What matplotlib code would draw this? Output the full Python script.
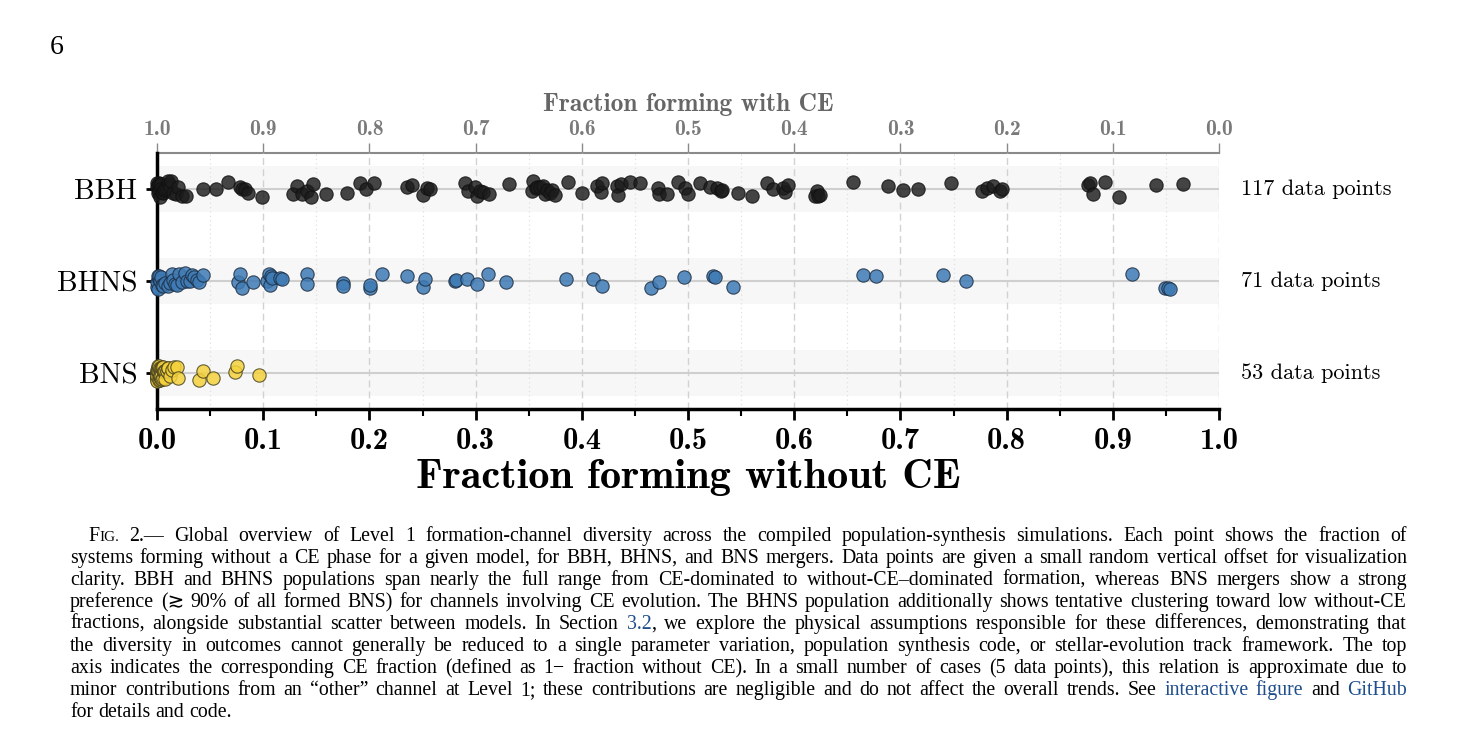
import numpy as np
import matplotlib
matplotlib.use("Agg")
import matplotlib.pyplot as plt

# ---------------- data ----------------
categories = ["BBH", "BHNS", "BNS"]
counts = [117, 71, 53]

bbh_frac = [
    0.000, 0.000, 0.001, 0.001, 0.002, 0.002, 0.003, 0.003, 0.004, 0.004,
    0.005, 0.006, 0.006, 0.007, 0.008, 0.009, 0.010, 0.011, 0.012, 0.013,
    0.015, 0.018, 0.020, 0.024, 0.027, 0.043, 0.056, 0.067, 0.078, 0.080,
    0.083, 0.086, 0.099, 0.128, 0.132, 0.137, 0.141, 0.145, 0.147, 0.159,
    0.179, 0.191, 0.197, 0.204, 0.235, 0.240, 0.250, 0.254, 0.257, 0.290,
    0.293, 0.299, 0.301, 0.304, 0.307, 0.313, 0.331, 0.353, 0.354, 0.357,
    0.358, 0.361, 0.363, 0.365, 0.367, 0.370, 0.372, 0.375, 0.387, 0.400,
    0.414, 0.418, 0.419, 0.433, 0.434, 0.437, 0.445, 0.455, 0.472, 0.473,
    0.480, 0.491, 0.497, 0.500, 0.511, 0.521, 0.527, 0.531, 0.532, 0.547,
    0.560, 0.574, 0.580, 0.589, 0.591, 0.594, 0.620, 0.621, 0.622, 0.624,
    0.655, 0.688, 0.702, 0.717, 0.748, 0.777, 0.782, 0.787, 0.794, 0.796,
    0.877, 0.879, 0.881, 0.893, 0.906, 0.941, 0.966,
]
bhns_frac = [
    0.000, 0.000, 0.001, 0.001, 0.002, 0.002, 0.003, 0.004, 0.005, 0.006,
    0.008, 0.010, 0.012, 0.014, 0.015, 0.017, 0.019, 0.021, 0.024, 0.026,
    0.028, 0.031, 0.033, 0.035, 0.038, 0.040, 0.043, 0.076, 0.078, 0.080,
    0.090, 0.104, 0.105, 0.106, 0.107, 0.108, 0.116, 0.118, 0.141, 0.141,
    0.175, 0.175, 0.201, 0.201, 0.212, 0.235, 0.250, 0.252, 0.281, 0.282,
    0.292, 0.301, 0.312, 0.329, 0.385, 0.411, 0.419, 0.465, 0.473, 0.496,
    0.524, 0.525, 0.542, 0.665, 0.677, 0.740, 0.762, 0.918, 0.949, 0.952,
    0.954,
]
bns_frac = [
    0.000, 0.000, 0.000, 0.000, 0.000, 0.000, 0.000, 0.000, 0.000, 0.000,
    0.001, 0.001, 0.001, 0.001, 0.001, 0.002, 0.002, 0.002, 0.002, 0.002,
    0.003, 0.003, 0.003, 0.003, 0.004, 0.004, 0.004, 0.004, 0.005, 0.005,
    0.005, 0.006, 0.006, 0.006, 0.007, 0.007, 0.008, 0.008, 0.009, 0.009,
    0.010, 0.010, 0.012, 0.014, 0.016, 0.019, 0.020, 0.040, 0.043, 0.053,
    0.073, 0.075, 0.096,
]
major_ticks = [0.0, 0.1, 0.2, 0.3, 0.4, 0.5, 0.6, 0.7, 0.8, 0.9, 1.0]
minor_ticks = [0.05, 0.15, 0.25, 0.35, 0.45, 0.55, 0.65, 0.75, 0.85, 0.95]

CS = 14.3   # caption font size
SC = 11.0   # small caps size
caption_lines = [
    [("F", "k", CS), ("IG.", "k", SC),
     (" 2.\u2014 Global overview of Level 1 formation-channel diversity across the compiled population-synthesis simulations. Each point shows the fraction of", "k", CS)],
    [("systems forming without a CE phase for a given model, for BBH, BHNS, and BNS mergers. Data points are given a small random vertical offset for visualization", "k", CS)],
    [("clarity. BBH and BHNS populations span nearly the full range from CE-dominated to without-CE\u2013dominated formation, whereas BNS mergers show a strong", "k", CS)],
    [("preference (\u2273 90% of all formed BNS) for channels involving CE evolution. The BHNS population additionally shows tentative clustering toward low without-CE", "k", CS)],
    [("fractions, alongside substantial scatter between models. In Section ", "k", CS), ("3.2", "L", CS),
     (", we explore the physical assumptions responsible for these differences, demonstrating that", "k", CS)],
    [("the diversity in outcomes cannot generally be reduced to a single parameter variation, population synthesis code, or stellar-evolution track framework. The top", "k", CS)],
    [("axis indicates the corresponding CE fraction (defined as 1\u2212 fraction without CE). In a small number of cases (5 data points), this relation is approximate due to", "k", CS)],
    [("minor contributions from an \u201cother\u201d channel at Level 1; these contributions are negligible and do not affect the overall trends. See ", "k", CS),
     ("interactive figure", "L", CS), (" and ", "k", CS), ("GitHub", "L", CS)],
    [("for details and code.", "k", CS)],
]

# ---------------- figure ----------------
W, H = 1472, 732
fig = plt.figure(figsize=(W / 100, H / 100), dpi=100)
fig.patch.set_facecolor("white")

ax = fig.add_axes([157 / W, 1 - 409 / H, (1219 - 157) / W, (409 - 153) / H])

rows = {"BBH": 2, "BHNS": 1, "BNS": 0}
styles = {
    "BBH": dict(fc="#1c1c1c", ec="#111111", alpha=0.82),
    "BHNS": dict(fc="#3f7bb5", ec="#1d2f44", alpha=0.85),
    "BNS": dict(fc="#f4d23c", ec="#4a4320", alpha=0.85),
}
datasets = {"BBH": bbh_frac, "BHNS": bhns_frac, "BNS": bns_frac}

rng = np.random.default_rng(7)
for name in categories:
    yc = rows[name]
    ax.axhspan(yc - 0.25, yc + 0.25, color="#f7f7f7", zorder=0, lw=0)
    ax.axhline(yc, color="#cfcfcf", lw=1.5, zorder=1)
    xs = np.array(datasets[name])
    jit = rng.uniform(-0.085, 0.085, size=len(xs))
    st = styles[name]
    ax.scatter(xs, yc + jit, s=92, facecolor=st["fc"], edgecolor=st["ec"],
               linewidth=0.8, alpha=st["alpha"], zorder=3, clip_on=False)

for xv in major_ticks:
    ax.axvline(xv, color="#d2d2d2", lw=1.0, ls=(0, (5, 3)), zorder=0.5)
for xv in minor_ticks:
    ax.axvline(xv, color="#e0e0e0", lw=0.9, ls=(0, (1, 2.5)), zorder=0.5)

ax.set_xlim(0, 1)
ax.set_ylim(-0.39, 2.39)
ax.set_facecolor("none")

ax.set_yticks([rows[c] for c in categories])
ax.set_yticklabels(categories, family="cmr10", fontsize=21)
ax.set_xticks(major_ticks)
ax.set_xticklabels([f"{v:.1f}" for v in major_ticks], family="cmb10", fontsize=22)
ax.set_xticks(minor_ticks, minor=True)
ax.tick_params(axis="x", which="major", length=8, width=2, pad=6, color="black")
ax.tick_params(axis="x", which="minor", length=5, width=1.5)
ax.tick_params(axis="y", length=8, width=2, pad=6)

for s in ["top", "right"]:
    ax.spines[s].set_visible(False)
for s in ["left", "bottom"]:
    ax.spines[s].set_linewidth(2.5)
    ax.spines[s].set_color("black")

sec = ax.secondary_xaxis("top", functions=(lambda x: 1 - x, lambda x: 1 - x))
sec.set_xticks(major_ticks)
sec.set_xticklabels([f"{v:.1f}" for v in major_ticks], family="cmb10", fontsize=15.5, color="#7a7a7a")
sec.tick_params(axis="x", length=7, width=1.0, color="#8a8a8a", pad=3)
sec.spines["top"].set_color("#8a8a8a")
sec.spines["top"].set_linewidth(1.5)

for name, n in zip(categories, counts):
    ax.text(1.0207, rows[name], f"{n} data points", transform=ax.get_yaxis_transform(),
            family="cmr10", fontsize=16, va="center", ha="left")

fig.text(688 / W, 1 - 478 / H, "Fraction forming without CE", family="cmb10",
         fontsize=30.5, ha="center", va="center")
fig.text(688 / W, 1 - 105 / H, "Fraction forming with CE", family="cmb10",
         fontsize=18.3, ha="center", va="center", color="#666666")

fig.text(50 / W, 1 - 47 / H, "6", family=["Liberation Serif", "DejaVu Serif"],
         fontsize=20, ha="left", va="center")

# ---------------- caption (justified) ----------------
fig.canvas.draw()
renderer = fig.canvas.get_renderer()
cap_family = ["Liberation Serif", "DejaVu Serif", "DejaVu Sans", "Noto Sans",
              "Noto Sans CJK JP"]
LINK = "#1f4e8c"


def measure(s, size):
    t = fig.text(0, 0, s, fontsize=size, family=cap_family)
    w = t.get_window_extent(renderer).width
    t.remove()
    return w


space_w = measure("a a", CS) - measure("aa", CS)

x_right = 1407
base0 = 541
dy = 22
for li, segs in enumerate(caption_lines):
    words = []
    cur = []
    for text, col, size in segs:
        parts = text.split(" ")
        for i, p in enumerate(parts):
            if i > 0:
                if cur:
                    words.append(cur)
                cur = []
            if p:
                cur.append((p, col, size))
    if cur:
        words.append(cur)
    x_left = 88 if li == 0 else 70
    widths = [[measure(p, sz) for p, c, sz in w] for w in words]
    total = sum(sum(w) for w in widths)
    last = li == len(caption_lines) - 1
    gap = space_w if last or len(words) < 2 else (x_right - x_left - total) / (len(words) - 1)
    x = x_left
    yb = 1 - (base0 + dy * li) / H
    for w, ws in zip(words, widths):
        for (p, col, sz), pw in zip(w, ws):
            fig.text(x / W, yb, p, fontsize=sz, family=cap_family,
                     color=(LINK if col == "L" else "black"), ha="left", va="baseline")
            x += pw
        x += gap

fig.savefig("out.png", dpi=100)
